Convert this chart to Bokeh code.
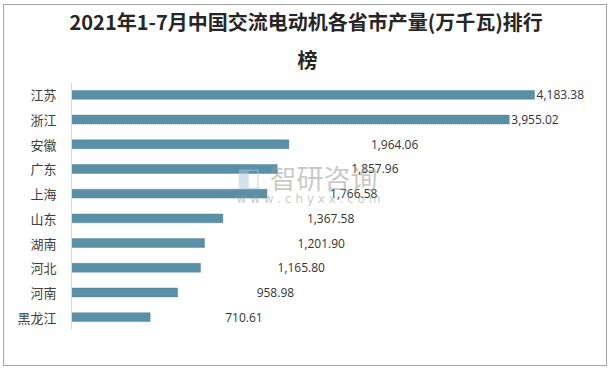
from bokeh.plotting import figure
from bokeh.models import Range1d, ColumnDataSource, Label, Title
from bokeh.core.properties import value
from bokeh.embed import file_html
from bokeh.resources import INLINE

provinces = ["江苏", "浙江", "安徽", "广东", "上海", "山东", "湖南", "河北", "河南", "黑龙江"]
output = [4183.38, 3955.02, 1964.06, 1857.96, 1766.58, 1367.58, 1201.90, 1165.80, 958.98, 710.61]
title_line1 = "2021年1-7月中国交流电动机各省市产量(万千瓦)排行"
title_line2 = "榜"

# label placement quirk of the reference (pixel shifts from bar end)
label_shift = [2, 2, 82, 74, 63, 84, 93, 77, 79, 75]

src = ColumnDataSource(dict(
    prov=provinces,
    val=output,
    txt=[f"{v:,.2f}" for v in output],
    dx=label_shift,
))

p = figure(width=604, height=362, output_backend="svg", toolbar_location=None,
           y_range=list(reversed(provinces)), x_range=Range1d(0, 4761),
           min_border_left=67, min_border_right=10, min_border_top=77, min_border_bottom=38)
p.styles = {"border": "1px solid #a6a6a6", "box-sizing": "border-box",
            "margin-left": "3px", "margin-top": "4px"}
p.outline_line_color = None
p.grid.visible = False
p.xaxis.visible = False
p.background_fill_color = "white"
p.border_fill_color = "white"
p.title.visible = False

for t, so, off in ((title_line2, 18, 226), (title_line1, -4, -2)):
    p.add_layout(Title(text=t, align="left", offset=off, standoff=so,
                       text_font="Noto Sans CJK SC", text_font_size="20px",
                       text_font_style="bold", text_color="#262626"), "above")

ax = p.yaxis[0]
ax.axis_line_color = "#d9d9d9"
ax.major_tick_line_color = None
ax.minor_tick_line_color = None
ax.major_label_standoff = 9
ax.major_label_text_font = "Noto Sans CJK SC"
ax.major_label_text_font_size = "13px"
ax.major_label_text_color = "#404040"

p.hbar(y="prov", right="val", left=0, height=0.36, source=src,
       fill_color="#5a90a6", line_color="#4a7d94", line_dash="1 1", line_width=0.8)

# watermark
wm1 = Label(x=1789, y=6.16, text="智研咨询", text_font="Noto Sans CJK SC",
            text_font_size="27px", text_color="#9a9a9a", text_alpha=0.55,
            text_baseline="middle")
wm2 = Label(x=1491, y=5.27, text="w w w . c h y x x . c o m", text_font="DejaVu Sans",
            text_font_size="12px", text_color="#9a9a9a", text_alpha=0.55,
            text_baseline="middle")
wm3 = Label(x=1491, y=6.16, text="◧", text_font="DejaVu Sans",
            text_font_size="26px", text_color="#a9c6de", text_alpha=0.5,
            text_baseline="middle")
for w in (wm1, wm2, wm3):
    p.add_layout(w)

p.text(x="val", y="prov", text="txt", x_offset="dx", source=src,
       text_font=value("Open Sans"), text_font_size="12px", text_color="#333333",
       text_baseline="middle", text_align="left")

open("out.html", "w").write(file_html(p, INLINE))
